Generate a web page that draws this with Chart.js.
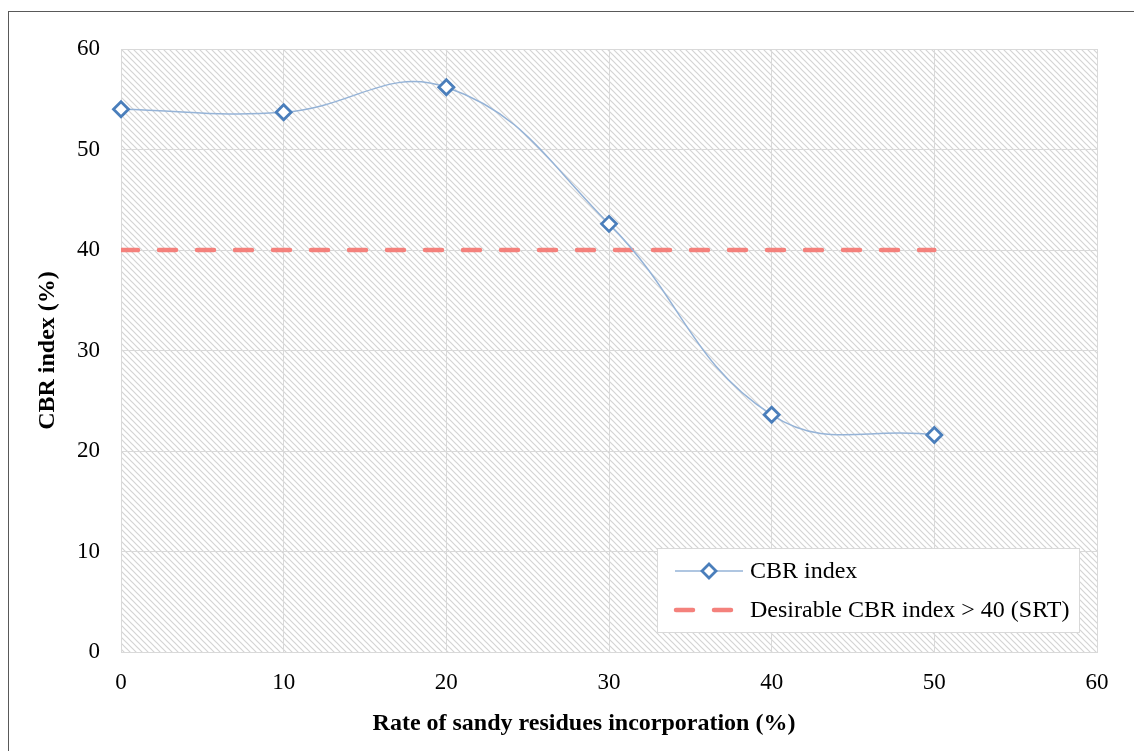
<!DOCTYPE html>
<html>
<head>
<meta charset="utf-8">
<script src="https://cdn.jsdelivr.net/npm/chart.js@4"></script>
<style>
  html, body { margin: 0; padding: 0; background: #fff; }
  #cbrChart { display: block; }
</style>
</head>
<body>
<canvas id="cbrChart" width="1134" height="751"></canvas>
<script>
// data
const rates = [0, 10, 20, 30, 40, 50];
const cbrValues = [54.0, 53.7, 56.2, 42.6, 23.6, 21.6];
const thresholdValues = [40, 40, 40, 40, 40, 40];
const seriesNames = ['CBR index', 'Desirable CBR index > 40 (SRT)'];
const xTitle = 'Rate of sandy residues incorporation (%)';
const yTitle = 'CBR index (%)';

const FONT = '"Liberation Serif", "Times New Roman", serif';

// hatched background pattern
function makeHatch() {
    const p = document.createElement('canvas');
    p.width = 6; p.height = 6;
    const c = p.getContext('2d');
    c.fillStyle = '#ffffff';
    c.fillRect(0, 0, 6, 6);
    c.strokeStyle = '#d4d4d4';
    c.lineWidth = 1.2;
    c.beginPath();
    c.moveTo(-1, -1); c.lineTo(7, 7);
    c.moveTo(-1, 5); c.lineTo(1, 7);
    c.moveTo(5, -1); c.lineTo(7, 1);
    c.stroke();
    return p;
}

const backdrop = {
    id: 'backdrop',
    beforeDraw(chart) {
        const { ctx, chartArea: a } = chart;
        ctx.save();
        ctx.fillStyle = '#ffffff';
        ctx.fillRect(0, 0, chart.width, chart.height);
        ctx.fillStyle = ctx.createPattern(makeHatch(), 'repeat');
        ctx.fillRect(a.left, a.top, a.right - a.left, a.bottom - a.top);
        // outer frame
        ctx.strokeStyle = '#595959';
        ctx.lineWidth = 1;
        ctx.strokeRect(8.5, 11.5, chart.width + 10, chart.height + 10);
        ctx.restore();
    }
};

// x title sits a little left of the plot centre in the original
const xTitleLabel = {
    id: 'xTitleLabel',
    afterDraw(chart) {
        const { ctx } = chart;
        ctx.save();
        ctx.fillStyle = '#000000';
        ctx.font = 'bold 24px ' + FONT;
        ctx.textAlign = 'center';
        ctx.textBaseline = 'middle';
        ctx.fillText(xTitle, 584, 724);
        ctx.restore();
    }
};

// legend box drawn inside the plot, like the original
const boxLegend = {
    id: 'boxLegend',
    afterDraw(chart) {
        const { ctx } = chart;
        const ds = chart.data.datasets;
        const x = 657, y = 548, w = 422, h = 84;
        ctx.save();
        ctx.fillStyle = '#ffffff';
        ctx.fillRect(x, y, w, h);
        ctx.strokeStyle = '#d9d9d9';
        ctx.lineWidth = 1;
        ctx.strokeRect(x + 0.5, y + 0.5, w, h);

        // entry 1: line + diamond
        let ly = y + 23;
        ctx.strokeStyle = ds[0].borderColor;
        ctx.lineWidth = ds[0].borderWidth;
        ctx.beginPath();
        ctx.moveTo(x + 18, ly); ctx.lineTo(x + 86, ly);
        ctx.stroke();
        ctx.beginPath();
        const r = 7, cx = x + 52;
        ctx.moveTo(cx, ly - r); ctx.lineTo(cx + r, ly); ctx.lineTo(cx, ly + r); ctx.lineTo(cx - r, ly);
        ctx.closePath();
        ctx.fillStyle = '#ffffff';
        ctx.fill();
        ctx.strokeStyle = ds[0].pointBorderColor;
        ctx.lineWidth = ds[0].pointBorderWidth;
        ctx.stroke();

        // entry 2: dashed line
        let ly2 = y + 62;
        ctx.strokeStyle = ds[1].borderColor;
        ctx.lineWidth = ds[1].borderWidth;
        ctx.lineCap = 'round';
        ctx.setLineDash(ds[1].borderDash);
        ctx.beginPath();
        ctx.moveTo(x + 19, ly2); ctx.lineTo(x + 76, ly2);
        ctx.stroke();
        ctx.setLineDash([]);

        ctx.fillStyle = '#000000';
        ctx.font = '24px ' + FONT;
        ctx.textBaseline = 'middle';
        ctx.fillText(ds[0].label, x + 93, ly + 1);
        ctx.fillText(ds[1].label, x + 93, ly2 + 1);
        ctx.restore();
    }
};

const ctx = document.getElementById('cbrChart').getContext('2d');
const cbrChart = new Chart(ctx, {
    type: 'line',
    data: {
        datasets: [{
            label: seriesNames[0],
            data: rates.map((r, i) => ({ x: r, y: cbrValues[i] })),
            borderColor: '#95b3d7',
            borderWidth: 1.5,
            tension: 0.42,
            clip: false,
            pointStyle: 'rectRot',
            pointRadius: 7.5,
            pointHoverRadius: 7.5,
            pointBackgroundColor: '#ffffff',
            pointBorderColor: '#4a7ebb',
            pointBorderWidth: 2.8,
            order: 0
        }, {
            label: seriesNames[1],
            data: rates.map((r, i) => ({ x: r, y: thresholdValues[i] })),
            borderColor: '#f4817c',
            borderWidth: 4.5,
            borderDash: [17, 21],
            borderCapStyle: 'round',
            pointRadius: 0,
            tension: 0,
            order: 1
        }]
    },
    options: {
        responsive: false,
        animation: false,
        layout: { padding: { top: 49, right: 37, left: 0, bottom: 0 } },
        plugins: {
            legend: { display: false },
            tooltip: { enabled: false }
        },
        scales: {
            x: {
                type: 'linear',
                min: 0,
                max: 60,
                ticks: { stepSize: 10, color: '#000', padding: 17, font: { family: FONT, size: 23 } },
                grid: { color: '#d9d9d9', lineWidth: 1, drawTicks: false },
                border: { color: '#d9d9d9' },
                afterFit(scale) { scale.height = 99; }
            },
            y: {
                min: 0,
                max: 60,
                ticks: { stepSize: 10, color: '#000', padding: 21, font: { family: FONT, size: 23 } },
                grid: { color: '#d9d9d9', lineWidth: 1, drawTicks: false },
                border: { color: '#d9d9d9' },
                title: {
                    display: true,
                    text: yTitle,
                    color: '#000',
                    font: { family: FONT, size: 24, weight: 'bold' },
                    padding: { top: 33, bottom: 33 }
                },
                afterFit(scale) { scale.width = 121; }
            }
        }
    },
    plugins: [backdrop, boxLegend, xTitleLabel]
});
</script>
</body>
</html>
